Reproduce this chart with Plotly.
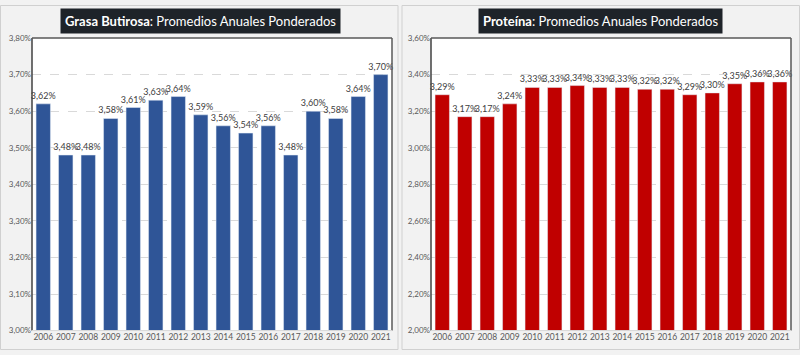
import plotly.graph_objects as go

years = [str(y) for y in range(2006, 2022)]
grasa = [3.62, 3.48, 3.48, 3.58, 3.61, 3.63, 3.64, 3.59, 3.56, 3.54, 3.56, 3.48, 3.60, 3.58, 3.64, 3.70]
proteina = [3.29, 3.17, 3.17, 3.24, 3.33, 3.33, 3.34, 3.33, 3.33, 3.32, 3.32, 3.29, 3.30, 3.35, 3.36, 3.36]
grasa_ticks = [3.00, 3.10, 3.20, 3.30, 3.40, 3.50, 3.60, 3.70, 3.80]
prot_ticks = [2.00, 2.20, 2.40, 2.60, 2.80, 3.00, 3.20, 3.40, 3.60]

W, H = 800, 355
FONT = "Lato"

def fx(px):
    return px / W

def fy(py):
    return (H - py) / H

fig = go.Figure()
for xa, ya, vals, col in [("x", "y", grasa, "#2f5597"), ("x2", "y2", proteina, "#c00000")]:
    fig.add_trace(go.Bar(
        x=years, y=[v / 100 for v in vals], xaxis=xa, yaxis=ya,
        marker=dict(color=col),
        texttemplate="%{y:.2%}", textposition="outside", cliponaxis=False,
        constraintext="none",
        textfont=dict(family=FONT, size=9, color="#404040"),
        hoverinfo="skip"))

L = (32, 392)
R = (431, 791)
TOP, BOT = 34, 335

axis_common = dict(showgrid=False, zeroline=False, ticks="", fixedrange=True,
                   tickfont=dict(family=FONT, size=8.5, color="#595959"))
yaxis_common = dict(showgrid=True, gridcolor="#d9d9d9", griddash="dash", gridwidth=1,
                    zeroline=False, tickformat=".2%", ticks="", ticklen=0, fixedrange=True,
                    tickfont=dict(family=FONT, size=8, color="#595959"))

fig.update_layout(
    width=W, height=H,
    margin=dict(l=0, r=0, t=0, b=0),
    paper_bgcolor="#f2f2f2", plot_bgcolor="#ffffff",
    separators=",.",
    showlegend=False,
    bargap=0.36,
    xaxis=dict(domain=[fx(L[0]), fx(L[1])], anchor="y", **axis_common),
    yaxis=dict(domain=[fy(BOT), fy(TOP)], anchor="x",
               range=[0.03, 0.038], tickvals=[v / 100 for v in grasa_ticks], **yaxis_common),
    xaxis2=dict(domain=[fx(R[0]), fx(R[1])], anchor="y2", **axis_common),
    yaxis2=dict(domain=[fy(BOT), fy(TOP)], anchor="x2",
                range=[0.02, 0.036], tickvals=[v / 100 for v in prot_ticks], **yaxis_common),
)

shapes = []
for x0, x1 in [(0.5, 398), (402, 799.5)]:
    shapes.append(dict(type="rect", xref="paper", yref="paper",
                       x0=fx(x0), x1=fx(x1), y0=fy(354.5), y1=fy(0.5),
                       line=dict(color="#d0d0d0", width=1), fillcolor="rgba(0,0,0,0)", layer="below"))
for a, b in [L, R]:
    shapes.append(dict(type="line", xref="paper", yref="paper",
                       x0=fx(a), x1=fx(a), y0=fy(BOT), y1=fy(TOP),
                       line=dict(color="#404040", width=1.5)))
    shapes.append(dict(type="line", xref="paper", yref="paper",
                       x0=fx(a), x1=fx(b), y0=fy(TOP), y1=fy(TOP),
                       line=dict(color="#595959", width=1.5)))
    shapes.append(dict(type="line", xref="paper", yref="paper",
                       x0=fx(b), x1=fx(b), y0=fy(BOT), y1=fy(TOP),
                       line=dict(color="#595959", width=1.5)))
    shapes.append(dict(type="line", xref="paper", yref="paper",
                       x0=fx(a), x1=fx(b), y0=fy(BOT), y1=fy(BOT),
                       line=dict(color="#d9d9d9", width=1)))
fig.update_layout(shapes=shapes)

annotations = [
    dict(text="<b>Grasa Butirosa</b>: Promedios Anuales Ponderados",
         x=fx(200), y=fy(16), xref="paper", yref="paper",
         showarrow=False, xanchor="center", yanchor="middle",
         font=dict(family=FONT, size=13, color="#ffffff"),
         bgcolor="#1e2329", borderpad=4),
    dict(text="<b>Proteína</b>: Promedios Anuales Ponderados",
         x=fx(600), y=fy(16), xref="paper", yref="paper",
         showarrow=False, xanchor="center", yanchor="middle",
         font=dict(family=FONT, size=13, color="#ffffff"),
         bgcolor="#1e2329", borderpad=4),
]
fig.update_layout(annotations=annotations)

fig.write_html("out.html", config={"displayModeBar": False},
               post_script="document.body.style.margin='0';document.body.style.overflow='hidden';")
